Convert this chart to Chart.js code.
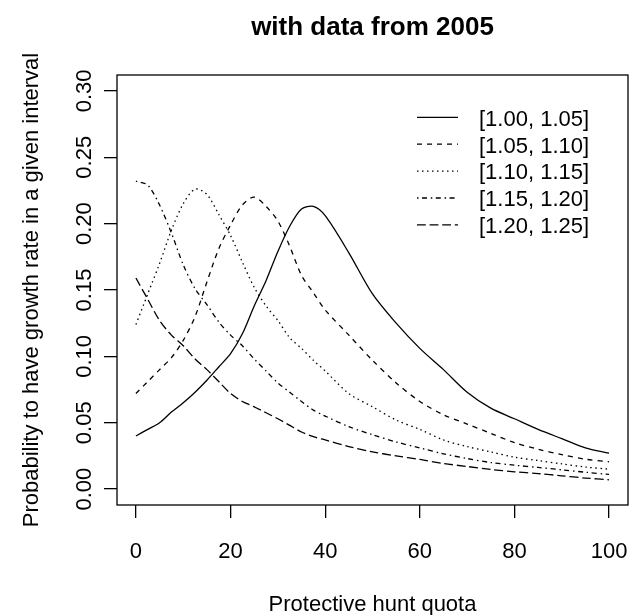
<!DOCTYPE html>
<html>
<head>
<meta charset="utf-8">
<script src="https://cdn.jsdelivr.net/npm/chart.js@4.4.1/dist/chart.umd.min.js"></script>
<style>
  body { margin: 0; background: #fff; }
  canvas { display: block; }
</style>
</head>
<body>
<canvas id="growthChart" width="630" height="615"></canvas>
<script>
const quota = [0, 2.5, 5, 7.5, 10, 12.5, 15, 17.5, 20, 22.5, 25, 27.5, 30, 32.5, 35, 37.5, 40,
               45, 50, 55, 60, 65, 70, 75, 80, 85, 90, 95, 100];

const rate100 = [0.040, 0.045, 0.050, 0.058, 0.065, 0.073, 0.082, 0.092, 0.102, 0.117, 0.138, 0.157, 0.179, 0.198, 0.211, 0.213, 0.206,
                 0.178, 0.147, 0.125, 0.106, 0.090, 0.073, 0.061, 0.053, 0.045, 0.038, 0.031, 0.027];
const rate105 = [0.072, 0.081, 0.090, 0.099, 0.112, 0.130, 0.156, 0.181, 0.199, 0.214, 0.220, 0.213, 0.202, 0.183, 0.161, 0.148, 0.135,
                 0.116, 0.097, 0.080, 0.066, 0.056, 0.049, 0.042, 0.035, 0.030, 0.026, 0.0225, 0.0205];
const rate110 = [0.124, 0.147, 0.170, 0.195, 0.215, 0.226, 0.222, 0.207, 0.191, 0.171, 0.152, 0.138, 0.127, 0.114, 0.106, 0.097, 0.089,
                 0.072, 0.062, 0.052, 0.045, 0.037, 0.032, 0.028, 0.024, 0.0215, 0.019, 0.0166, 0.015];
const rate115 = [0.232, 0.229, 0.214, 0.193, 0.169, 0.151, 0.139, 0.126, 0.116, 0.108, 0.098, 0.089, 0.080, 0.073, 0.066, 0.0595, 0.055,
                 0.047, 0.041, 0.0355, 0.031, 0.0266, 0.023, 0.020, 0.018, 0.0163, 0.0145, 0.0127, 0.011];
const rate120 = [0.159, 0.143, 0.127, 0.116, 0.108, 0.098, 0.090, 0.081, 0.072, 0.066, 0.062, 0.0575, 0.053, 0.048, 0.043, 0.0395, 0.037,
                 0.032, 0.028, 0.025, 0.0223, 0.0193, 0.017, 0.0148, 0.013, 0.0117, 0.010, 0.0083, 0.007];

const seriesLabels = ['[1.00, 1.05]', '[1.05, 1.10]', '[1.10, 1.15]', '[1.15, 1.20]', '[1.20, 1.25]'];
const xTicks = [0, 20, 40, 60, 80, 100];
const yTicks = [0, 0.05, 0.10, 0.15, 0.20, 0.25, 0.30];
const yTickLabels = ['0.00', '0.05', '0.10', '0.15', '0.20', '0.25', '0.30'];

const FONT = '"Liberation Sans", Arial, Helvetica, sans-serif';
const LW = 1.3;
// R line types 1..5 scaled a bit
const dashes = [[], [5, 5], [1.5, 3.5], [1.5, 3.5, 5, 3.8], [8.8, 3.8]];

function toPoints(values) {
    return quota.map((q, i) => ({ x: q, y: values[i] }));
}

// box, axis texts and legend, drawn the way R does it
const rDecor = {
    id: 'rDecor',
    afterDraw(chart) {
        const c = chart.ctx;
        const area = chart.chartArea;
        const xs = chart.scales.x;
        const ys = chart.scales.y;
        c.save();
        c.strokeStyle = '#000';
        c.lineWidth = LW;
        c.strokeRect(area.left, area.top, area.right - area.left, area.bottom - area.top);

        c.fillStyle = '#000';
        c.font = '22px ' + FONT;
        c.textAlign = 'center';
        c.textBaseline = 'alphabetic';
        xTicks.forEach(v => c.fillText(String(v), xs.getPixelForValue(v), 557.5));

        yTicks.forEach((v, i) => {
            c.save();
            c.translate(90.6, ys.getPixelForValue(v));
            c.rotate(-Math.PI / 2);
            c.fillText(yTickLabels[i], 0, 0);
            c.restore();
        });

        const midX = (area.left + area.right) / 2;
        c.fillText('Protective hunt quota', midX, 610.5);

        c.save();
        c.translate(37.8, (area.top + area.bottom) / 2);
        c.rotate(-Math.PI / 2);
        c.fillText('Probability to have growth rate in a given interval', 0, 0);
        c.restore();

        c.font = 'bold 26px ' + FONT;
        c.fillText('with data from 2005', midX, 35);

        // legend
        c.font = '22px ' + FONT;
        c.textAlign = 'left';
        chart.data.datasets.forEach((ds, i) => {
            const ly = 117.3 + 26.9 * i;
            c.beginPath();
            c.setLineDash(ds.borderDash);
            c.lineWidth = LW;
            c.moveTo(417, ly);
            c.lineTo(458, ly);
            c.stroke();
            c.setLineDash([]);
            c.fillText(ds.label, 479, ly + 8.3);
        });
        c.restore();
    }
};

const allRates = [rate100, rate105, rate110, rate115, rate120];

new Chart(document.getElementById('growthChart').getContext('2d'), {
    type: 'line',
    data: {
        datasets: allRates.map((r, i) => ({
            label: seriesLabels[i],
            data: toPoints(r),
            borderColor: '#000',
            borderWidth: LW,
            borderDash: dashes[i],
            pointRadius: 0,
            fill: false,
            tension: 0.3,
        })),
    },
    options: {
        responsive: false,
        animation: false,
        devicePixelRatio: 1,
        layout: { padding: { left: 104, right: 2, top: 75, bottom: 97 } },
        plugins: {
            legend: { display: false },
            tooltip: { enabled: false },
        },
        scales: {
            x: {
                type: 'linear',
                min: -4,
                max: 104,
                afterBuildTicks: s => { s.ticks = xTicks.map(v => ({ value: v })); },
                afterFit: s => { s.height = 13; },
                ticks: { display: false },
                border: { display: false },
                grid: { drawOnChartArea: false, drawTicks: true, tickLength: 13, color: '#000', lineWidth: LW },
            },
            y: {
                type: 'linear',
                min: -0.012,
                max: 0.312,
                afterBuildTicks: s => { s.ticks = yTicks.map(v => ({ value: v })); },
                afterFit: s => { s.width = 13; },
                ticks: { display: false },
                border: { display: false },
                grid: { drawOnChartArea: false, drawTicks: true, tickLength: 13, color: '#000', lineWidth: LW },
            },
        },
    },
    plugins: [rDecor],
});
</script>
</body>
</html>
